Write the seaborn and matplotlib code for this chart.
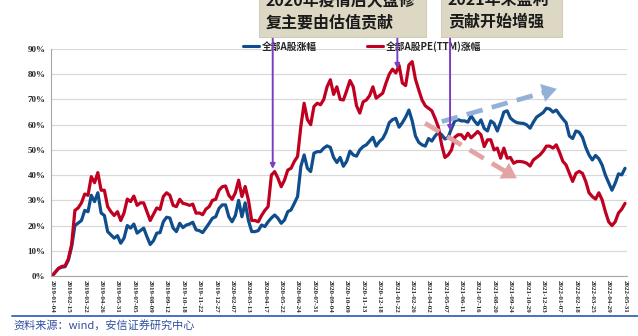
import numpy as np
import pandas as pd
import matplotlib
matplotlib.use("Agg")
import matplotlib.pyplot as plt
import seaborn as sns
from matplotlib.patches import Rectangle
from matplotlib.lines import Line2D

# ---------------- data ----------------
tick_labels = [
    "2019-01-04", "2019-02-15", "2019-03-22", "2019-04-26", "2019-05-31", "2019-07-05",
    "2019-08-09", "2019-09-12", "2019-10-18", "2019-11-22", "2019-12-27", "2020-02-07",
    "2020-03-13", "2020-04-17", "2020-05-22", "2020-06-24", "2020-07-31", "2020-09-04",
    "2020-10-09", "2020-11-13", "2020-12-18", "2021-01-22", "2021-02-26", "2021-04-02",
    "2021-05-07", "2021-06-11", "2021-07-16", "2021-08-20", "2021-09-24", "2021-10-29",
    "2021-12-03", "2022-01-07", "2022-02-18", "2022-03-25", "2022-04-29", "2022-05-31",
]

name_blue = "全部A股涨幅"
name_red = "全部A股PE(TTM)涨幅"

blue_vals = [
    0, 1.5, 3, 3.5, 3.7, 6.3, 11.6, 20, 21, 22,
    26, 25.5, 32, 29.5, 33, 25, 24, 17.6, 16.3, 15,
    16, 13, 15, 20, 19, 20.6, 17, 18, 19, 15.6,
    12.5, 14, 17, 17.2, 21.5, 23.3, 23, 19, 17.6, 20.9,
    19.2, 20.2, 20.6, 21.3, 18.3, 18, 17.2, 19, 20.9, 22.9,
    23.5, 26.8, 28.2, 28.2, 23.5, 21.5, 24, 30, 23.5, 29,
    22, 17.6, 17.6, 18, 20.2, 19.6, 21.5, 23, 24.2, 22.9,
    20.9, 22.2, 25.5, 26.2, 28.8, 31.5, 43.4, 48, 42.7, 41.4,
    48.7, 49.3, 49.3, 50.7, 51.6, 51, 47, 45, 47, 43.5,
    45.5, 49.5, 48, 47.5, 50, 51.3, 52, 53.5, 55, 51.5,
    53.3, 54.5, 57, 60.8, 62, 62.5, 59, 60.8, 63, 65.8,
    61.5, 55.5, 53, 52, 51.5, 54.5, 53.5, 55.5, 57, 56,
    54.3, 55, 58.5, 61.5, 62, 61.5, 61.5, 61, 63.5, 61.5,
    60, 61.9, 58.5, 57.5, 61.5, 60.5, 57.5, 61, 65, 65.5,
    62.6, 61.5, 60.8, 60.6, 60.5, 59.9, 58.6, 61, 63, 63.9,
    64.8, 66.5, 66.2, 65, 65.8, 64, 62.3, 60.8, 55.5, 54.5,
    57.5, 57, 55, 51, 48, 46, 47.8, 46.5, 44, 40,
    37, 34, 36.8, 40.5, 40.1, 42.7,
]

red_vals = [
    0, 1.5, 3, 3.8, 4, 6.8, 12.5, 26, 27, 29,
    32.5, 32, 39.4, 37, 41, 34, 34, 27.5, 25.5, 24,
    25.5, 22, 25, 30.5, 29.5, 31.7, 28, 29, 29, 25.5,
    22, 24.5, 27, 26.4, 31.5, 33, 32, 28, 27.5, 30.4,
    28.8, 28.5, 28, 28.5, 24.9, 25, 24.3, 26.5, 27.5, 30,
    30.4, 34, 35.4, 35.7, 32, 30.4, 33, 38, 31.5, 35.5,
    30, 22, 22, 21.5, 24, 26, 27.5, 40, 41.4, 38.8,
    35.4, 38, 42, 42.7, 45.4, 47.4, 59.3, 68.5, 62, 60,
    67.2, 68.5, 67.9, 70, 75, 77.8, 72, 75, 70, 69.8,
    73.5, 77.5, 75, 67.5, 64.6, 69, 69.8, 71.5, 75, 70.5,
    71.5, 72.5, 76.5, 80, 82, 80.5, 83.5, 76.5, 75.5, 83.7,
    85, 78, 73.8, 69.8, 67.5, 66.5, 65.5, 62.5, 59, 52,
    47, 48, 50, 55, 56, 56, 54.3, 56.6, 54.8, 56,
    57.3, 56, 51.3, 54, 54, 50, 50.7, 46.7, 50.7, 46.7,
    47, 44.7, 45.4, 45.4, 45.2, 44.7, 43.6, 46, 47, 48,
    49.5, 51.5, 51.5, 50.7, 52, 49, 45.5, 44, 40.7, 37.5,
    40.7, 41.5, 40.7, 37.5, 33, 31.5, 30.5, 33, 30.2, 25.5,
    21.5, 20, 21.5, 25, 26.5, 28.8,
]

y_ticks = [0, 10, 20, 30, 40, 50, 60, 70, 80, 90]

# ---------------- style ----------------
sns.set_theme(style="white")
plt.rcParams["font.family"] = ["Noto Sans CJK SC", "DejaVu Sans"]
plt.rcParams["axes.unicode_minus"] = False

BLUE = "#0f4d8c"
RED = "#c00020"
W, H = 638, 336

fig = plt.figure(figsize=(W / 100, H / 100), dpi=100)
fig.patch.set_facecolor("white")
ax = fig.add_axes([51 / W, 1 - 276 / H, (627 - 51) / W, (276 - 49) / H])

n = len(blue_vals)
df = pd.DataFrame({
    "idx": np.concatenate([np.arange(n), np.arange(n)]),
    "val": blue_vals + red_vals,
    "series": [name_blue] * n + [name_red] * n,
})
sns.lineplot(data=df, x="idx", y="val", hue="series",
             hue_order=[name_blue, name_red], palette=[BLUE, RED],
             linewidth=2.3, ax=ax)

ax.set_xlim(-0.3, 175.6)
ax.set_ylim(0, 90)
ax.set_xlabel("")
ax.set_ylabel("")

ax.set_yticks(y_ticks)
ax.set_yticklabels([f"{v}%" for v in y_ticks], fontfamily="Liberation Serif",
                   fontweight="bold", fontsize=6.5)
ax.set_xticks(np.arange(0, n, 5))
ax.set_xticklabels(tick_labels, rotation=-90, fontfamily="Liberation Serif",
                   fontweight="bold", fontsize=5.0, va="top", ha="center")
ax.tick_params(axis="both", length=2, width=0.6, color="#8c8c8c", pad=2)
ax.tick_params(axis="x", pad=1.0)

ax.yaxis.grid(True, color="#d9d9d9", linewidth=0.9)
ax.xaxis.grid(False)
for s in ["top", "right"]:
    ax.spines[s].set_visible(False)
for s in ["left", "bottom"]:
    ax.spines[s].set_color("#a6a6a6")
    ax.spines[s].set_linewidth(0.8)

handles, labels = ax.get_legend_handles_labels()
leg = ax.legend(handles, labels, ncol=2, loc="upper center",
                bbox_to_anchor=(0.54, 1.035), frameon=False,
                prop={"family": ["Noto Sans CJK SC", "DejaVu Sans"],
                      "weight": "bold", "size": 7},
                handlelength=1.6, handletextpad=0.3, columnspacing=5.2,
                borderaxespad=0, borderpad=0)
for lh in leg.get_lines():
    lh.set_linewidth(2.2)

# ---------------- annotations ----------------
def px2data(px, py):
    return ((px - 52) / 3.274, (276 - py) / 2.52)

# beige boxes at the top (partly cut off, as in the source image)
box_fc = "#dcd8c3"
for (x0, x1) in [(259, 426), (441, 562)]:
    fig.add_artist(Rectangle((x0 / W, 1 - 37 / H), (x1 - x0) / W, 60 / H,
                             transform=fig.transFigure, facecolor=box_fc,
                             edgecolor="#c9c5ae", linewidth=0.6, zorder=5))

txt_kw = dict(fontsize=11.5, color="#1a1a1a", va="center", ha="left",
              fontweight="bold", zorder=6)
fig.text(266 / W, 1 - 0 / H, "2020年疫情后大盘修", **txt_kw)
fig.text(266 / W, 1 - 22 / H, "复主要由估值贡献", **txt_kw)
fig.text(448 / W, 1 - 0 / H, "2021年来盈利", **txt_kw)
fig.text(448 / W, 1 - 21 / H, "贡献开始增强", **txt_kw)

PURPLE = "#7d3fc0"
for (px, py_tip, py_start) in [(272.7, 169, 37), (397.3, 69, 37), (450, 131, 37)]:
    ax.annotate("", xy=px2data(px, py_tip),
                xytext=(px2data(px, py_tip)[0], 1 - py_start / H),
                xycoords="data", textcoords=("data", "figure fraction"),
                arrowprops=dict(arrowstyle="-|>", color=PURPLE, lw=1.4,
                                mutation_scale=7, shrinkA=0, shrinkB=0),
                annotation_clip=False, zorder=7)

# dashed trend arrows
def dashed_arrow(p0, p1, color):
    x0, y0 = px2data(*p0)
    x1, y1 = px2data(*p1)
    fx = 0.89
    xm, ym = x0 + (x1 - x0) * fx, y0 + (y1 - y0) * fx
    ax.plot([x0, xm], [y0, ym], color=color, lw=3.4, linestyle=(0, (3.5, 2)),
            solid_capstyle="butt", dash_capstyle="butt", zorder=4)
    ax.annotate("", xy=(x1, y1), xytext=(xm, ym),
                arrowprops=dict(arrowstyle="-|>,head_length=0.8,head_width=0.5",
                                color=color, lw=0.1, mutation_scale=13,
                                shrinkA=0, shrinkB=0),
                zorder=4)

dashed_arrow((441.7, 121.7), (556.7, 89), "#93b1d6")
dashed_arrow((425, 123.3), (516.7, 178.3), "#e3a3a3")

# bottom rule and source text
fig.add_artist(Line2D([12 / W, 1.0], [1 - 316 / H, 1 - 316 / H],
                      transform=fig.transFigure, color="#4472c4", lw=1.4))
fig.text(13 / W, 1 - 325.5 / H, "资料来源：wind，安信证券研究中心",
         color="#2f4f9f", fontsize=8, style="italic", va="center", ha="left")

fig.savefig("out.png", dpi=100)
